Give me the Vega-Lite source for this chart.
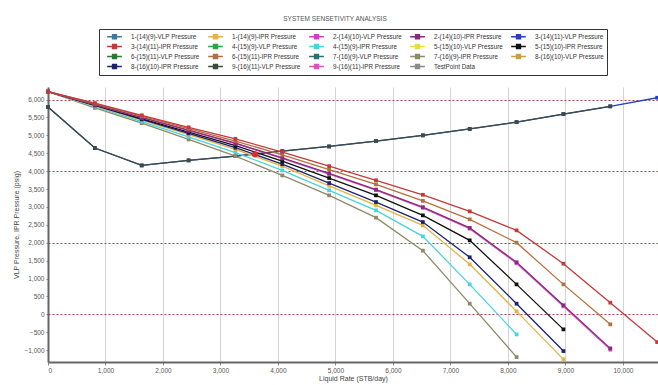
{
  "$schema": "https://vega.github.io/schema/vega-lite/v6.json",
  "width": 610,
  "height": 275,
  "autosize": "none",
  "padding": {"left": 48, "top": 87, "right": 0, "bottom": 23},
  "background": "white",
  "config": {"font": "Liberation Sans", "view": {"stroke": null}},
  "title": {"text": "SYSTEM SENSETIVITY ANALYSIS", "fontSize": 6.5, "fontWeight": "normal", "color": "#555", "dx": -18, "offset": 6},
  "datasets": {
    "curves": [
      {"s": "3-(14)(11)-VLP Pressure", "x": 0, "y": 5790}, {"s": "3-(14)(11)-VLP Pressure", "x": 815, "y": 4645}, {"s": "3-(14)(11)-VLP Pressure", "x": 1630, "y": 4160}, {"s": "3-(14)(11)-VLP Pressure", "x": 2445, "y": 4300}, {"s": "3-(14)(11)-VLP Pressure", "x": 3260, "y": 4420}, {"s": "3-(14)(11)-VLP Pressure", "x": 4075, "y": 4560}, {"s": "3-(14)(11)-VLP Pressure", "x": 4890, "y": 4690}, {"s": "3-(14)(11)-VLP Pressure", "x": 5705, "y": 4840}, {"s": "3-(14)(11)-VLP Pressure", "x": 6520, "y": 5000}, {"s": "3-(14)(11)-VLP Pressure", "x": 7335, "y": 5180}, {"s": "3-(14)(11)-VLP Pressure", "x": 8150, "y": 5370}, {"s": "3-(14)(11)-VLP Pressure", "x": 8965, "y": 5595}, {"s": "3-(14)(11)-VLP Pressure", "x": 9780, "y": 5810}, {"s": "3-(14)(11)-VLP Pressure", "x": 10595, "y": 6050},
      {"s": "9-(16)(11)-VLP Pressure", "x": 0, "y": 5790}, {"s": "9-(16)(11)-VLP Pressure", "x": 815, "y": 4645}, {"s": "9-(16)(11)-VLP Pressure", "x": 1630, "y": 4160}, {"s": "9-(16)(11)-VLP Pressure", "x": 2445, "y": 4300}, {"s": "9-(16)(11)-VLP Pressure", "x": 3260, "y": 4420}, {"s": "9-(16)(11)-VLP Pressure", "x": 4075, "y": 4560}, {"s": "9-(16)(11)-VLP Pressure", "x": 4890, "y": 4690}, {"s": "9-(16)(11)-VLP Pressure", "x": 5705, "y": 4840}, {"s": "9-(16)(11)-VLP Pressure", "x": 6520, "y": 5000}, {"s": "9-(16)(11)-VLP Pressure", "x": 7335, "y": 5180}, {"s": "9-(16)(11)-VLP Pressure", "x": 8150, "y": 5370}, {"s": "9-(16)(11)-VLP Pressure", "x": 8965, "y": 5595}, {"s": "9-(16)(11)-VLP Pressure", "x": 9780, "y": 5810},
      {"s": "7-(16)(9)-IPR Pressure", "x": 0, "y": 6220}, {"s": "7-(16)(9)-IPR Pressure", "x": 815, "y": 5765}, {"s": "7-(16)(9)-IPR Pressure", "x": 1630, "y": 5340}, {"s": "7-(16)(9)-IPR Pressure", "x": 2445, "y": 4885}, {"s": "7-(16)(9)-IPR Pressure", "x": 3260, "y": 4420}, {"s": "7-(16)(9)-IPR Pressure", "x": 4075, "y": 3880}, {"s": "7-(16)(9)-IPR Pressure", "x": 4890, "y": 3324}, {"s": "7-(16)(9)-IPR Pressure", "x": 5705, "y": 2701}, {"s": "7-(16)(9)-IPR Pressure", "x": 6520, "y": 1780}, {"s": "7-(16)(9)-IPR Pressure", "x": 7335, "y": 299}, {"s": "7-(16)(9)-IPR Pressure", "x": 8150, "y": -1193},
      {"s": "4-(15)(9)-IPR Pressure", "x": 0, "y": 6220}, {"s": "4-(15)(9)-IPR Pressure", "x": 815, "y": 5800}, {"s": "4-(15)(9)-IPR Pressure", "x": 1630, "y": 5385}, {"s": "4-(15)(9)-IPR Pressure", "x": 2445, "y": 4955}, {"s": "4-(15)(9)-IPR Pressure", "x": 3260, "y": 4520}, {"s": "4-(15)(9)-IPR Pressure", "x": 4075, "y": 4020}, {"s": "4-(15)(9)-IPR Pressure", "x": 4890, "y": 3464}, {"s": "4-(15)(9)-IPR Pressure", "x": 5705, "y": 2905}, {"s": "4-(15)(9)-IPR Pressure", "x": 6520, "y": 2179}, {"s": "4-(15)(9)-IPR Pressure", "x": 7335, "y": 838}, {"s": "4-(15)(9)-IPR Pressure", "x": 8150, "y": -559},
      {"s": "1-(14)(9)-IPR Pressure", "x": 0, "y": 6220}, {"s": "1-(14)(9)-IPR Pressure", "x": 815, "y": 5825}, {"s": "1-(14)(9)-IPR Pressure", "x": 1630, "y": 5425}, {"s": "1-(14)(9)-IPR Pressure", "x": 2445, "y": 5020}, {"s": "1-(14)(9)-IPR Pressure", "x": 3260, "y": 4610}, {"s": "1-(14)(9)-IPR Pressure", "x": 4075, "y": 4140}, {"s": "1-(14)(9)-IPR Pressure", "x": 4890, "y": 3590}, {"s": "1-(14)(9)-IPR Pressure", "x": 5705, "y": 3045}, {"s": "1-(14)(9)-IPR Pressure", "x": 6520, "y": 2486}, {"s": "1-(14)(9)-IPR Pressure", "x": 7335, "y": 1397}, {"s": "1-(14)(9)-IPR Pressure", "x": 8150, "y": 84}, {"s": "1-(14)(9)-IPR Pressure", "x": 8965, "y": -1257},
      {"s": "8-(16)(10)-IPR Pressure", "x": 0, "y": 6220}, {"s": "8-(16)(10)-IPR Pressure", "x": 815, "y": 5835}, {"s": "8-(16)(10)-IPR Pressure", "x": 1630, "y": 5445}, {"s": "8-(16)(10)-IPR Pressure", "x": 2445, "y": 5055}, {"s": "8-(16)(10)-IPR Pressure", "x": 3260, "y": 4655}, {"s": "8-(16)(10)-IPR Pressure", "x": 4075, "y": 4195}, {"s": "8-(16)(10)-IPR Pressure", "x": 4890, "y": 3668}, {"s": "8-(16)(10)-IPR Pressure", "x": 5705, "y": 3137}, {"s": "8-(16)(10)-IPR Pressure", "x": 6520, "y": 2578}, {"s": "8-(16)(10)-IPR Pressure", "x": 7335, "y": 1595}, {"s": "8-(16)(10)-IPR Pressure", "x": 8150, "y": 299}, {"s": "8-(16)(10)-IPR Pressure", "x": 8965, "y": -1025},
      {"s": "5-(15)(10)-IPR Pressure", "x": 0, "y": 6220}, {"s": "5-(15)(10)-IPR Pressure", "x": 815, "y": 5845}, {"s": "5-(15)(10)-IPR Pressure", "x": 1630, "y": 5470}, {"s": "5-(15)(10)-IPR Pressure", "x": 2445, "y": 5090}, {"s": "5-(15)(10)-IPR Pressure", "x": 3260, "y": 4715}, {"s": "5-(15)(10)-IPR Pressure", "x": 4075, "y": 4280}, {"s": "5-(15)(10)-IPR Pressure", "x": 4890, "y": 3808}, {"s": "5-(15)(10)-IPR Pressure", "x": 5705, "y": 3324}, {"s": "5-(15)(10)-IPR Pressure", "x": 6520, "y": 2765}, {"s": "5-(15)(10)-IPR Pressure", "x": 7335, "y": 2067}, {"s": "5-(15)(10)-IPR Pressure", "x": 8150, "y": 838}, {"s": "5-(15)(10)-IPR Pressure", "x": 8965, "y": -419},
      {"s": "9-(16)(11)-IPR Pressure", "x": 0, "y": 6220}, {"s": "9-(16)(11)-IPR Pressure", "x": 815, "y": 5860}, {"s": "9-(16)(11)-IPR Pressure", "x": 1630, "y": 5495}, {"s": "9-(16)(11)-IPR Pressure", "x": 2445, "y": 5135}, {"s": "9-(16)(11)-IPR Pressure", "x": 3260, "y": 4770}, {"s": "9-(16)(11)-IPR Pressure", "x": 4075, "y": 4358}, {"s": "9-(16)(11)-IPR Pressure", "x": 4890, "y": 3920}, {"s": "9-(16)(11)-IPR Pressure", "x": 5705, "y": 3470}, {"s": "9-(16)(11)-IPR Pressure", "x": 6520, "y": 2975}, {"s": "9-(16)(11)-IPR Pressure", "x": 7335, "y": 2395}, {"s": "9-(16)(11)-IPR Pressure", "x": 8150, "y": 1425}, {"s": "9-(16)(11)-IPR Pressure", "x": 8965, "y": 225}, {"s": "9-(16)(11)-IPR Pressure", "x": 9780, "y": -985},
      {"s": "2-(14)(10)-IPR Pressure", "x": 0, "y": 6220}, {"s": "2-(14)(10)-IPR Pressure", "x": 815, "y": 5865}, {"s": "2-(14)(10)-IPR Pressure", "x": 1630, "y": 5505}, {"s": "2-(14)(10)-IPR Pressure", "x": 2445, "y": 5145}, {"s": "2-(14)(10)-IPR Pressure", "x": 3260, "y": 4780}, {"s": "2-(14)(10)-IPR Pressure", "x": 4075, "y": 4370}, {"s": "2-(14)(10)-IPR Pressure", "x": 4890, "y": 3935}, {"s": "2-(14)(10)-IPR Pressure", "x": 5705, "y": 3485}, {"s": "2-(14)(10)-IPR Pressure", "x": 6520, "y": 2995}, {"s": "2-(14)(10)-IPR Pressure", "x": 7335, "y": 2415}, {"s": "2-(14)(10)-IPR Pressure", "x": 8150, "y": 1455}, {"s": "2-(14)(10)-IPR Pressure", "x": 8965, "y": 255}, {"s": "2-(14)(10)-IPR Pressure", "x": 9780, "y": -950},
      {"s": "6-(15)(11)-IPR Pressure", "x": 0, "y": 6220}, {"s": "6-(15)(11)-IPR Pressure", "x": 815, "y": 5885}, {"s": "6-(15)(11)-IPR Pressure", "x": 1630, "y": 5535}, {"s": "6-(15)(11)-IPR Pressure", "x": 2445, "y": 5185}, {"s": "6-(15)(11)-IPR Pressure", "x": 3260, "y": 4840}, {"s": "6-(15)(11)-IPR Pressure", "x": 4075, "y": 4455}, {"s": "6-(15)(11)-IPR Pressure", "x": 4890, "y": 4045}, {"s": "6-(15)(11)-IPR Pressure", "x": 5705, "y": 3630}, {"s": "6-(15)(11)-IPR Pressure", "x": 6520, "y": 3170}, {"s": "6-(15)(11)-IPR Pressure", "x": 7335, "y": 2654}, {"s": "6-(15)(11)-IPR Pressure", "x": 8150, "y": 2003}, {"s": "6-(15)(11)-IPR Pressure", "x": 8965, "y": 838}, {"s": "6-(15)(11)-IPR Pressure", "x": 9780, "y": -279},
      {"s": "3-(14)(11)-IPR Pressure", "x": 0, "y": 6220}, {"s": "3-(14)(11)-IPR Pressure", "x": 815, "y": 5900}, {"s": "3-(14)(11)-IPR Pressure", "x": 1630, "y": 5560}, {"s": "3-(14)(11)-IPR Pressure", "x": 2445, "y": 5225}, {"s": "3-(14)(11)-IPR Pressure", "x": 3260, "y": 4900}, {"s": "3-(14)(11)-IPR Pressure", "x": 4075, "y": 4534}, {"s": "3-(14)(11)-IPR Pressure", "x": 4890, "y": 4140}, {"s": "3-(14)(11)-IPR Pressure", "x": 5705, "y": 3745}, {"s": "3-(14)(11)-IPR Pressure", "x": 6520, "y": 3340}, {"s": "3-(14)(11)-IPR Pressure", "x": 7335, "y": 2877}, {"s": "3-(14)(11)-IPR Pressure", "x": 8150, "y": 2346}, {"s": "3-(14)(11)-IPR Pressure", "x": 8965, "y": 1416}, {"s": "3-(14)(11)-IPR Pressure", "x": 9780, "y": 327}, {"s": "3-(14)(11)-IPR Pressure", "x": 10595, "y": -774}
    ],
    "opPoint": [{"x": 3600, "y": 4470}]
  },
  "encoding": {
    "x": {"field": "x", "type": "quantitative", "scale": {"domain": [0, 10610], "nice": false, "zero": false},
      "axis": {"title": "Liquid Rate  (STB/day)", "values": [0,1000,2000,3000,4000,5000,6000,7000,8000,9000,10000], "format": ",.0f", "grid": true, "gridColor": "#d4d4d4", "gridWidth": 1, "domainColor": "#666", "domainWidth": 2, "tickColor": "#888", "tickSize": 3, "labelFontSize": 6.5, "labelColor": "#555", "labelPadding": 2, "titleFontSize": 7, "titleFontWeight": "normal", "titleColor": "#444", "titlePadding": 1}},
    "y": {"field": "y", "type": "quantitative", "scale": {"domain": [-1330, 6350], "nice": false, "zero": false},
      "axis": {"title": "VLP Pressure, IPR Pressure (psig)", "values": [-1000,-500,0,500,1000,1500,2000,2500,3000,3500,4000,4500,5000,5500,6000], "format": ",.0f", "grid": true,
        "gridColor": "#a04848", "gridDash": [2, 2], "gridWidth": 1,
        "gridOpacity": {"condition": {"test": "datum.value % 2000 === 0", "value": 1}, "value": 0},
        "domainColor": "#666", "domainWidth": 2, "tickColor": "#888", "tickSize": 2, "labelFontSize": 6.5, "labelColor": "#555", "labelPadding": 2, "titleFontSize": 7, "titleFontWeight": "normal", "titleColor": "#444", "titlePadding": 4}}
  },
  "layer": [
    {
      "data": {"name": "curves"},
      "transform": [{"filter": "datum.s === '3-(14)(11)-VLP Pressure'"}],
      "mark": {"type": "line", "strokeWidth": 1.3, "point": {"shape": "square", "size": 14, "filled": true}},
      "encoding": {"color": {"field": "s", "type": "nominal"}}
    },
    {
      "data": {"name": "curves"},
      "transform": [{"filter": "datum.s !== '3-(14)(11)-VLP Pressure'"}],
      "mark": {"type": "line", "strokeWidth": 1.3, "point": {"shape": "square", "size": 14, "filled": true}},
      "encoding": {"color": {"field": "s", "type": "nominal",
        "scale": {
          "domain": ["1-(14)(9)-VLP Pressure", "1-(14)(9)-IPR Pressure", "2-(14)(10)-VLP Pressure", "2-(14)(10)-IPR Pressure", "3-(14)(11)-VLP Pressure",
                     "3-(14)(11)-IPR Pressure", "4-(15)(9)-VLP Pressure", "4-(15)(9)-IPR Pressure", "5-(15)(10)-VLP Pressure", "5-(15)(10)-IPR Pressure",
                     "6-(15)(11)-VLP Pressure", "6-(15)(11)-IPR Pressure", "7-(16)(9)-VLP Pressure", "7-(16)(9)-IPR Pressure", "8-(16)(10)-VLP Pressure",
                     "8-(16)(10)-IPR Pressure", "9-(16)(11)-VLP Pressure", "9-(16)(11)-IPR Pressure", "TestPoint Data"],
          "range": ["#3a7ca0", "#e0b44a", "#d040c0", "#8a2a7a", "#2840c0",
                    "#c43a3a", "#34a044", "#48d4dc", "#e6dc3c", "#111111",
                    "#2a7a32", "#b4703c", "#2a7272", "#8e8a68", "#c8a040",
                    "#1c2270", "#3c4c42", "#d852c4", "#8a8a8a"]
        },
        "legend": {
          "orient": "none", "legendX": 51, "legendY": -58, "columns": 5, "direction": "horizontal", "title": null,
          "symbolType": "M-2.1,0L2.1,0M-0.55,-0.55L0.55,-0.55L0.55,0.55L-0.55,0.55Z",
          "symbolSize": 49, "symbolStrokeWidth": 1.5, "symbolOffset": 8,
          "labelFontSize": 6.3, "labelColor": "#333", "labelOffset": 12, "labelLimit": 100,
          "strokeColor": "#333", "fillColor": "white", "padding": 3,
          "rowPadding": -1, "columnPadding": 3, "gridAlign": "all"
        }
      }}
    },
    {
      "data": {"name": "opPoint"},
      "mark": {"type": "point", "shape": "circle", "filled": true, "size": 40, "color": "#d03030", "opacity": 1}
    }
  ]
}
